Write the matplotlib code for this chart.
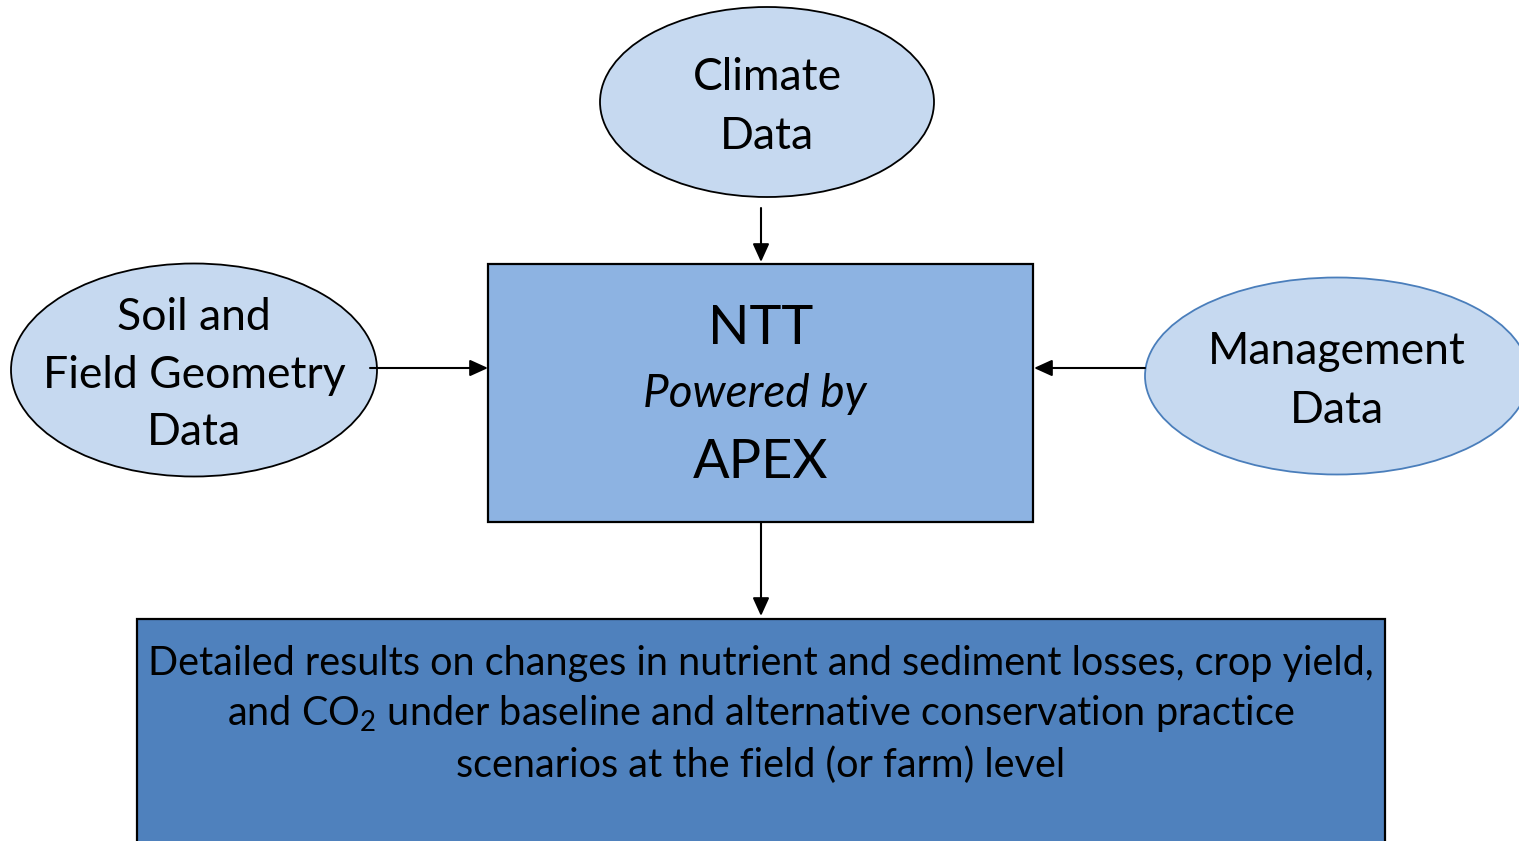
import matplotlib
matplotlib.use("Agg")
import matplotlib.pyplot as plt
from matplotlib.patches import Ellipse, Rectangle

plt.rcParams['font.family'] = ['Lato', 'DejaVu Sans']
plt.rcParams['mathtext.fontset'] = 'custom'
plt.rcParams['mathtext.rm'] = 'Lato'
plt.rcParams['mathtext.it'] = 'Lato:italic'

# Text content
climate_label = "Climate\nData"
soil_label = "Soil and\nField Geometry\nData"
management_label = "Management\nData"
ntt_title = "NTT"
ntt_sub = "Powered by"
ntt_engine = "APEX"
result_lines = [
    "Detailed results on changes in nutrient and sediment losses, crop yield,",
    r"and CO$_2$ under baseline and alternative conservation practice",
    "scenarios at the field (or farm) level",
]

W, H = 1519, 841
fig = plt.figure(figsize=(W / 100, H / 100), dpi=100)
ax = fig.add_axes([0, 0, 1, 1])
ax.set_xlim(0, W)
ax.set_ylim(H, 0)
ax.axis('off')

light = '#C6D9F0'
mid = '#8DB3E2'
dark = '#4F81BD'

# Ellipses
ax.add_patch(Ellipse((767, 102), 334, 190, facecolor=light, edgecolor='black', lw=1.3))
ax.add_patch(Ellipse((194, 370), 366, 213, facecolor=light, edgecolor='black', lw=1.3))
ax.add_patch(Ellipse((1337, 376), 384, 197, facecolor=light, edgecolor='#4A7EBB', lw=1.3))

# Boxes
ax.add_patch(Rectangle((488, 264), 545, 258, facecolor=mid, edgecolor='black', lw=1.6))
ax.add_patch(Rectangle((137, 619), 1248, 260, facecolor=dark, edgecolor='black', lw=1.6))

# Arrows
arrow_kw = dict(arrowstyle='-|>,head_length=1.1,head_width=0.5', color='black', lw=1.5,
                shrinkA=0, shrinkB=0)
ax.annotate('', xy=(761, 262), xytext=(761, 208), arrowprops=arrow_kw)
ax.annotate('', xy=(488, 368), xytext=(370, 368), arrowprops=arrow_kw)
ax.annotate('', xy=(1034, 368), xytext=(1145, 368), arrowprops=arrow_kw)
ax.annotate('', xy=(761, 616), xytext=(761, 522), arrowprops=arrow_kw)

# Text
ax.text(767, 107, climate_label, ha='center', va='center', fontsize=32, linespacing=1.52)
ax.text(194, 375, soil_label, ha='center', va='center', fontsize=32, linespacing=1.5)
ax.text(1337, 381, management_label, ha='center', va='center', fontsize=32, linespacing=1.52)

ax.text(761, 328, ntt_title, ha='center', va='center', fontsize=39)
ax.text(755, 394, ntt_sub, ha='center', va='center', fontsize=33, style='italic')
ax.text(761, 462, ntt_engine, ha='center', va='center', fontsize=39)

for i, line in enumerate(result_lines):
    ax.text(761, 663 + 51 * i, line, ha='center', va='center', fontsize=28.5)

fig.savefig('out.png', dpi=100)
